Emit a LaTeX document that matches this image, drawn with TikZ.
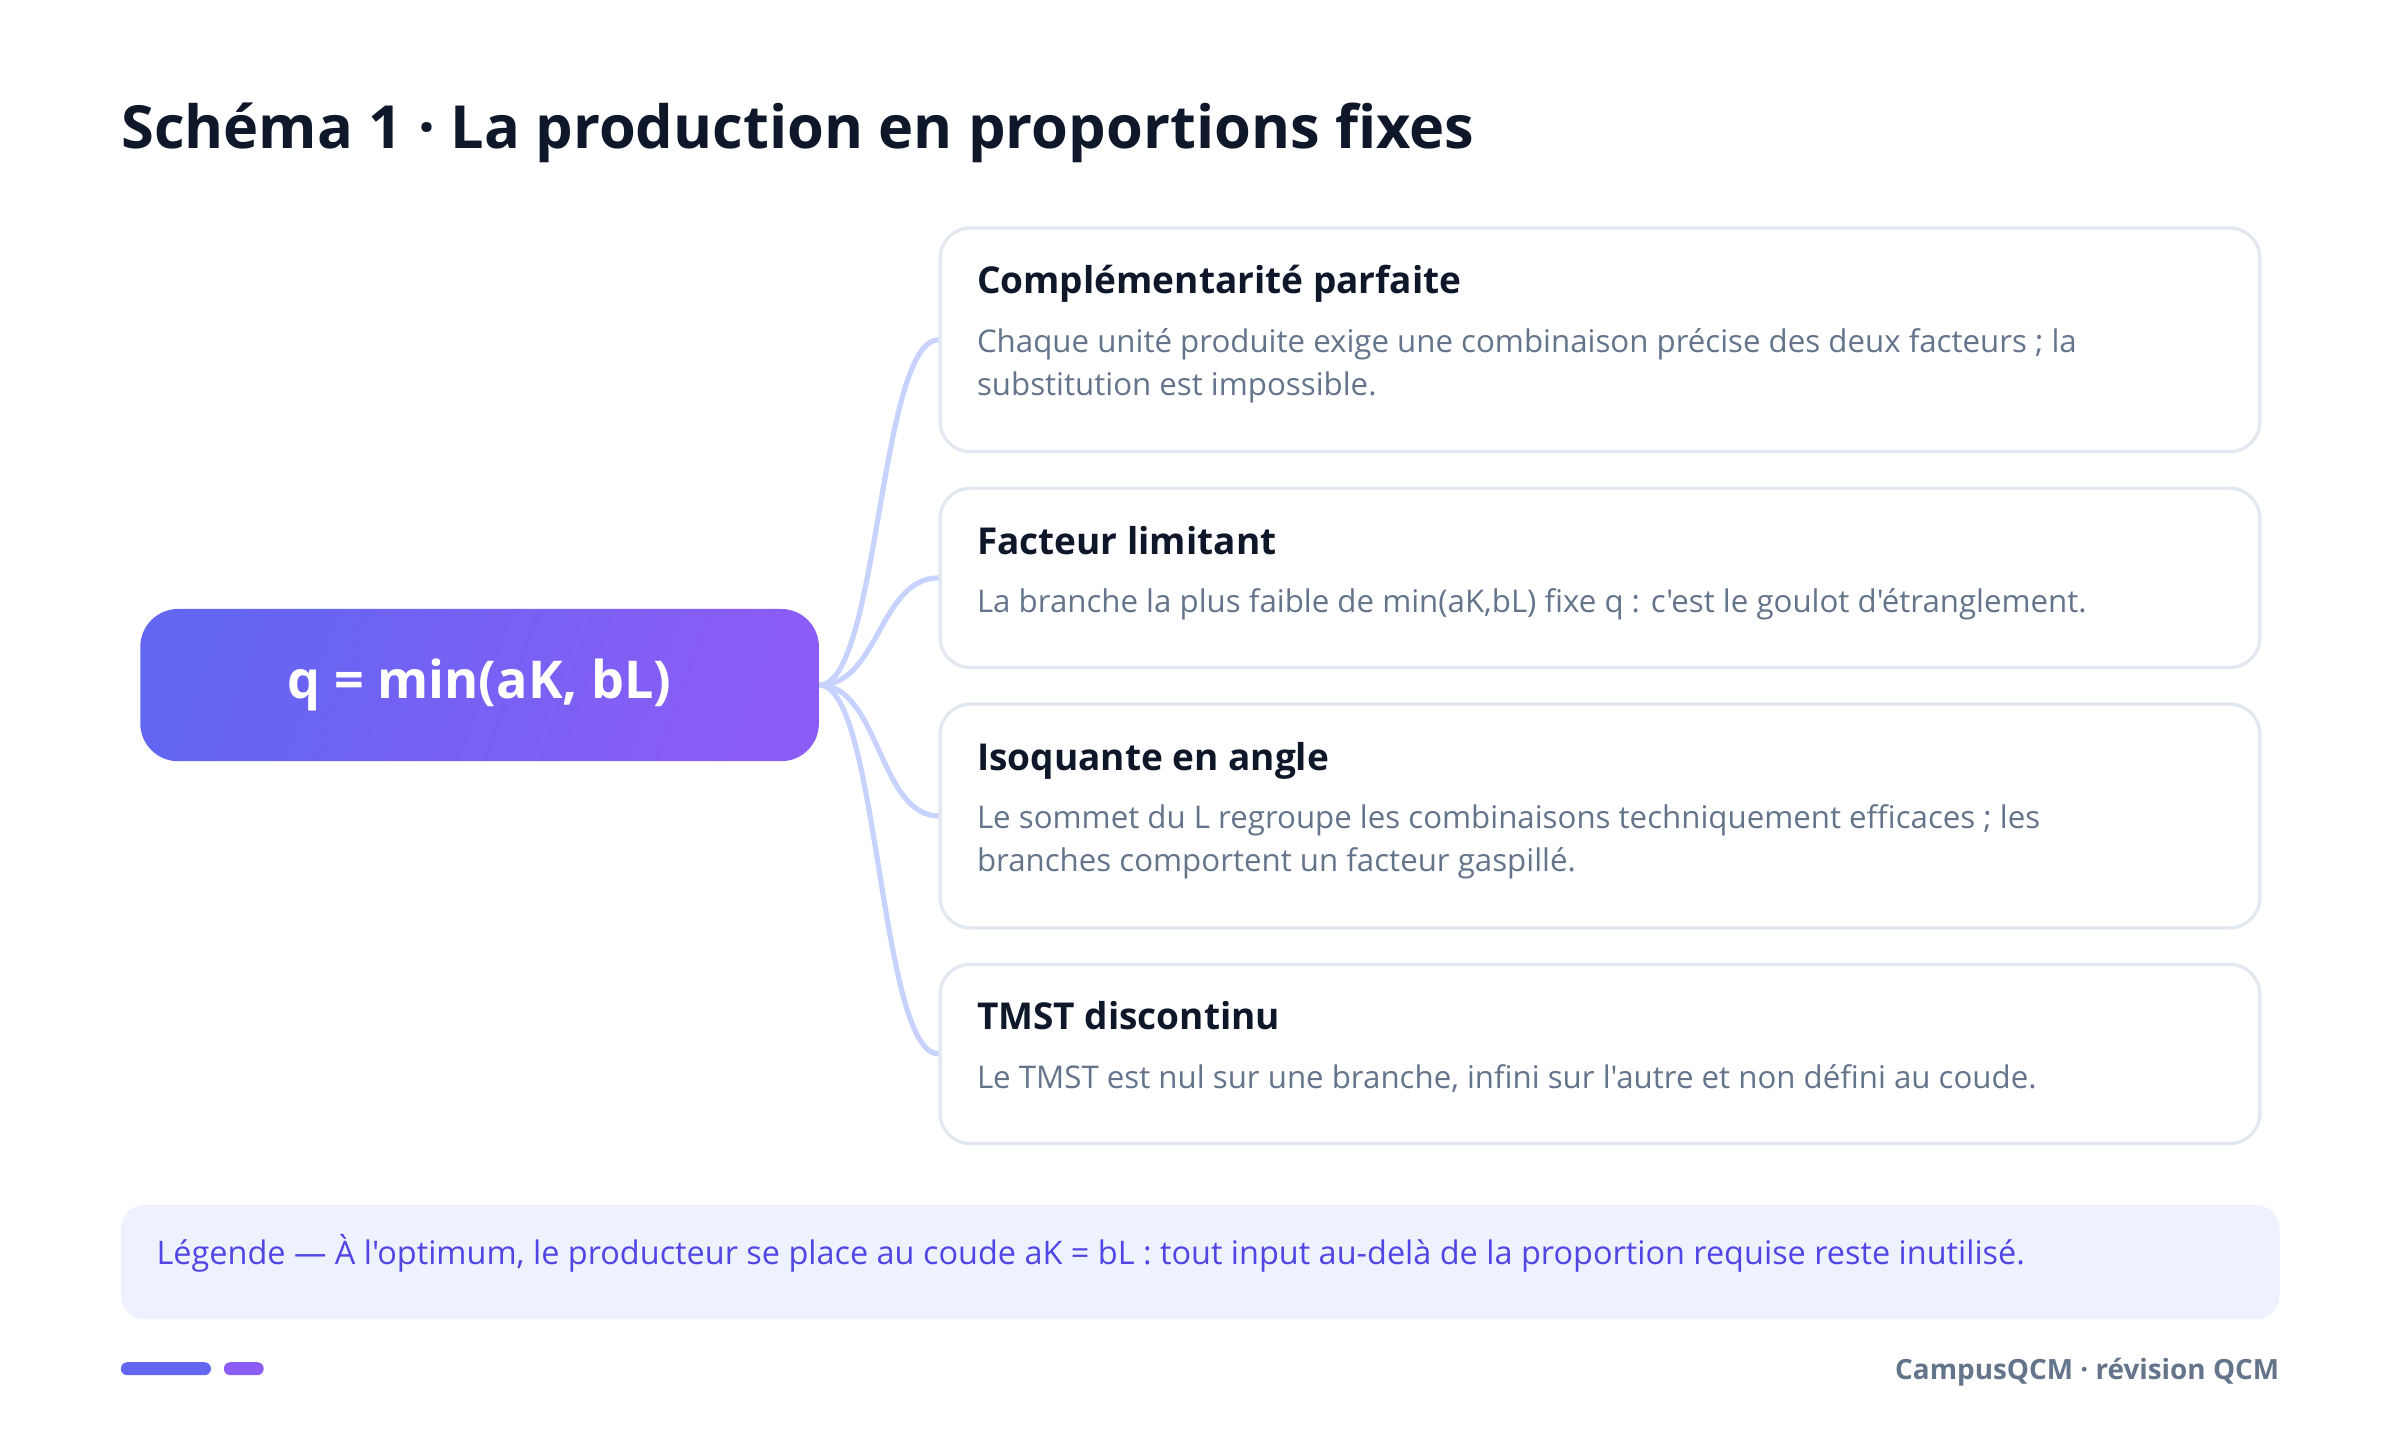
\documentclass[tikz,border=0pt]{standalone}
\usepackage{fontspec}
\setmainfont{Open Sans}[Ligatures=TeXOff]
\usetikzlibrary{positioning}
\definecolor{ink}{HTML}{0F172A}
\definecolor{slate}{HTML}{64748B}
\definecolor{edge}{HTML}{E2E8F0}
\definecolor{wirec}{HTML}{C7D2FE}
\definecolor{indigo}{HTML}{6366F1}
\definecolor{violet}{HTML}{8B5CF6}
\definecolor{legendbg}{HTML}{EEF2FF}
\definecolor{legendink}{HTML}{4F46E5}
\tikzset{
  card/.style={draw=edge, line width=1.6pt, fill=white, rounded corners=15pt,
    minimum width=663pt, inner sep=0pt},
  head/.style={anchor=base west, inner sep=0pt, text=ink,
    font=\fontsize{18.6}{22}\selectfont\bfseries},
  body/.style={anchor=base west, inner sep=0pt, align=left, text=slate,
    font=\fontsize{15.7}{21.5}\selectfont},
  wire/.style={draw=wirec, line width=2.6pt},
}
\begin{document}
\begin{tikzpicture}[x=0.5pt, y=-0.5pt]
\fill[white] (0,0) rectangle (2412,1436.2);
\useasboundingbox (0,0) rectangle (2412,1436.2);
% title
\node[anchor=base west, inner sep=0pt, text=ink, font=\fontsize{29.9}{35}\selectfont\bfseries]
  (title) at (121.5,149) {Schéma 1 · La production en proportions fixes};
% the formula
\node[rounded corners=19pt, top color=indigo, bottom color=violet, shading angle=70,
  minimum width=341pt, minimum height=76.5pt, text=white,
  font=\fontsize{26.2}{31}\selectfont\bfseries] (core) at (482,688.5) {q = min(aK, bL)};
%     the four cards
\node[card, minimum height=112.3pt] (c1) at (1608,341.5) {};
\node[card, minimum height=90pt] (c2) at (1608,580.8) {};
\node[card, minimum height=112.3pt] (c3) at (1608,820) {};
\node[card, minimum height=90pt] (c4) at (1608,1059.2) {};
% branches
\foreach \c in {c1,c2,c3,c4}
  \draw[wire] (core.east) .. controls +(60,0) and +(-60,0) .. (\c.west);
\node[card, minimum height=112.3pt] at (c1) {};
\node[card, minimum height=90pt] at (c2) {};
\node[card, minimum height=112.3pt] at (c3) {};
\node[card, minimum height=90pt] at (c4) {};
%     card texts
\node[head] (h1) at (981.5,295) {Complémentarité parfaite};
\node[body] (b1) at (981.5,397) {Chaque unité produite exige une combinaison précise des deux facteurs ; la\\substitution est impossible.};
\node[head] (h2) at (981.5,557) {Facteur limitant};
\node[body] (b2) at (981.5,616) {La branche la plus faible de min(aK,bL) fixe q : c'est le goulot d'étranglement.};
\node[head] (h3) at (981.5,774) {Isoquante en angle};
\node[body] (b3) at (981.5,876) {Le sommet du L regroupe les combinaisons techniquement efficaces ; les\\branches comportent un facteur gaspillé.};
\node[head] (h4) at (981.5,1035) {TMST discontinu};
\node[body] (b4) at (981.5,1094) {Le TMST est nul sur une branche, infini sur l'autre et non défini au coude.};
% legend
\node[fill=legendbg, rounded corners=12pt, minimum width=1084.75pt, minimum height=57.5pt]
  (key) at (1206.25,1268.5) {};
\node[anchor=base west, inner sep=0pt, text=legendink, font=\fontsize{16.3}{19}\selectfont]
  (keytext) at (157,1271) {Légende — À l'optimum, le producteur se place au coude aK = bL : tout input au-delà de la proportion requise reste inutilisé.};
% footer
\fill[indigo, rounded corners=3.2pt] (121.5,1369) rectangle (212,1382);
\fill[violet, rounded corners=3.2pt] (225,1369) rectangle (265,1382);
\node[anchor=base east, inner sep=0pt, text=slate, font=\fontsize{14}{17}\selectfont\bfseries]
  (credit) at (2291,1386) {CampusQCM · révision QCM};
\end{tikzpicture}
\end{document}
